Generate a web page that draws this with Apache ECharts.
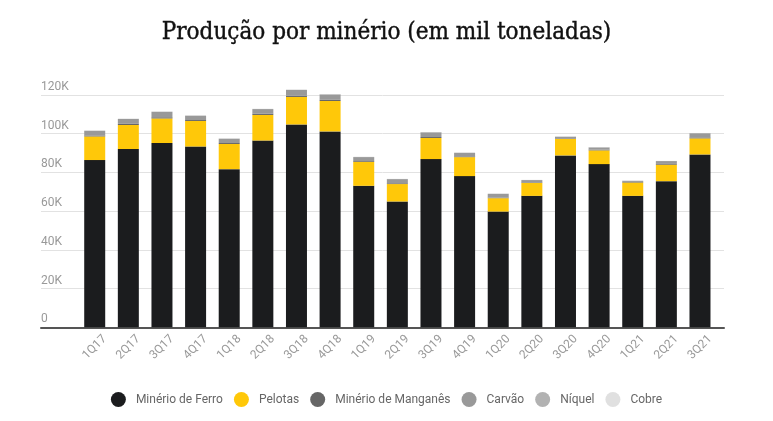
<!DOCTYPE html>
<html>
<head>
<meta charset="utf-8">
<script src="https://cdn.jsdelivr.net/npm/echarts@6/dist/echarts.min.js"></script>
<style>
html,body{margin:0;padding:0;background:#fff;}
#chart{width:773px;height:421px;}
</style>
</head>
<body>
<div id="chart"></div>
<script>
const categories = ['1Q17','2Q17','3Q17','4Q17','1Q18','2Q18','3Q18','4Q18','1Q19','2Q19','3Q19','4Q19','1Q20','2Q20','3Q20','4Q20','1Q21','2Q21','3Q21'];
const ferro = [86.4, 92.1, 95.2, 93.4, 81.7, 96.5, 104.8, 101.2, 73.1, 65.0, 86.9, 78.1, 59.8, 67.9, 88.8, 84.3, 67.9, 75.5, 89.3];
const pelotas = [12.2, 12.4, 12.7, 13.2, 13.0, 13.2, 14.2, 15.7, 12.4, 9.0, 10.9, 9.8, 6.9, 6.7, 8.5, 7.1, 6.9, 8.5, 8.3];
const manganes = [0.5, 0.6, 0.6, 0.5, 0.5, 0.6, 0.6, 0.6, 0.4, 0.4, 0.5, 0.4, 0.3, 0.3, 0.3, 0.4, 0.3, 0.4, 0.5];
const carvao = [2.43, 2.53, 2.83, 2.23, 2.23, 2.44, 3.04, 2.82, 2.04, 2.16, 2.44, 1.84, 1.96, 1.16, 0.86, 1.15, 0.57, 1.48, 2.17];
const niquel = [0.07, 0.07, 0.07, 0.07, 0.07, 0.06, 0.06, 0.07, 0.06, 0.05, 0.06, 0.06, 0.05, 0.05, 0.05, 0.05, 0.05, 0.04, 0.05];
const cobre = [0.10, 0.10, 0.10, 0.10, 0.10, 0.10, 0.10, 0.11, 0.10, 0.09, 0.10, 0.10, 0.09, 0.09, 0.09, 0.10, 0.08, 0.08, 0.08];

const seriesDefs = [
  {name: 'Minério de Ferro', data: ferro, color: '#1b1c1e'},
  {name: 'Pelotas', data: pelotas, color: '#ffc809'},
  {name: 'Minério de Manganês', data: manganes, color: '#666666'},
  {name: 'Carvão', data: carvao, color: '#999999'},
  {name: 'Níquel', data: niquel, color: '#b2b2b2'},
  {name: 'Cobre', data: cobre, color: '#e0e0e0'}
];

const chart = echarts.init(document.getElementById('chart'), null, {renderer: 'canvas'});
const TOP = 56.3, BOTTOM = 93.7;
chart.setOption({
  animation: false,
  title: {
    text: 'Produção por minério (em mil toneladas)',
    left: 'center',
    top: 16,
    textStyle: {fontFamily: 'DejaVu Serif Condensed, DejaVu Serif, serif', fontSize: 24, fontWeight: 'normal', color: '#111',
      textBorderColor: '#111', textBorderWidth: 0.4}
  },
  legend: {
    bottom: 9,
    left: 'center',
    icon: 'circle',
    itemWidth: 15,
    itemHeight: 15,
    itemGap: 11,
    textStyle: {fontFamily: 'Roboto', fontSize: 12, color: '#666', padding: [0, 0, 0, 5]},
    data: seriesDefs.map(s => s.name)
  },
  grid: [
    {left: 41, right: 49, top: TOP, bottom: BOTTOM},
    {left: 77.9, right: 56.2, top: TOP, bottom: BOTTOM}
  ],
  xAxis: [
    {gridIndex: 0, type: 'category', data: [''], axisLine: {show: true, lineStyle: {color: '#555', width: 2}}, axisTick: {show: false}, axisLabel: {show: false}, splitLine: {show: false}},
    {gridIndex: 1, type: 'category', data: categories, axisLine: {show: false}, axisTick: {show: false},
      axisLabel: {rotate: 45, align: 'center', verticalAlign: 'middle', fontFamily: 'Roboto', fontSize: 12, color: '#999', margin: 20, interval: 0}}
  ],
  yAxis: [
    {gridIndex: 0, type: 'value', min: 0, max: 140, interval: 20,
      axisLine: {show: false}, axisTick: {show: false},
      splitLine: {show: true, showMaxLine: false, lineStyle: {color: '#e2e2e2', width: 1}},
      axisLabel: {inside: true, showMaxLabel: false, margin: 0, align: 'left', verticalAlign: 'bottom', padding: [0, 0, 2, 0],
        fontFamily: 'Roboto', fontSize: 12, color: '#999', formatter: v => v === 0 ? '0' : v + 'K'}},
    {gridIndex: 1, type: 'value', min: 0, max: 140, interval: 20, show: false, splitLine: {show: false}}
  ],
  series: seriesDefs.map(s => ({
    name: s.name,
    type: 'bar',
    stack: 'total',
    xAxisIndex: 1,
    yAxisIndex: 1,
    barWidth: 21,
    data: s.data,
    itemStyle: {color: s.color}
  }))
});
</script>
</body>
</html>
